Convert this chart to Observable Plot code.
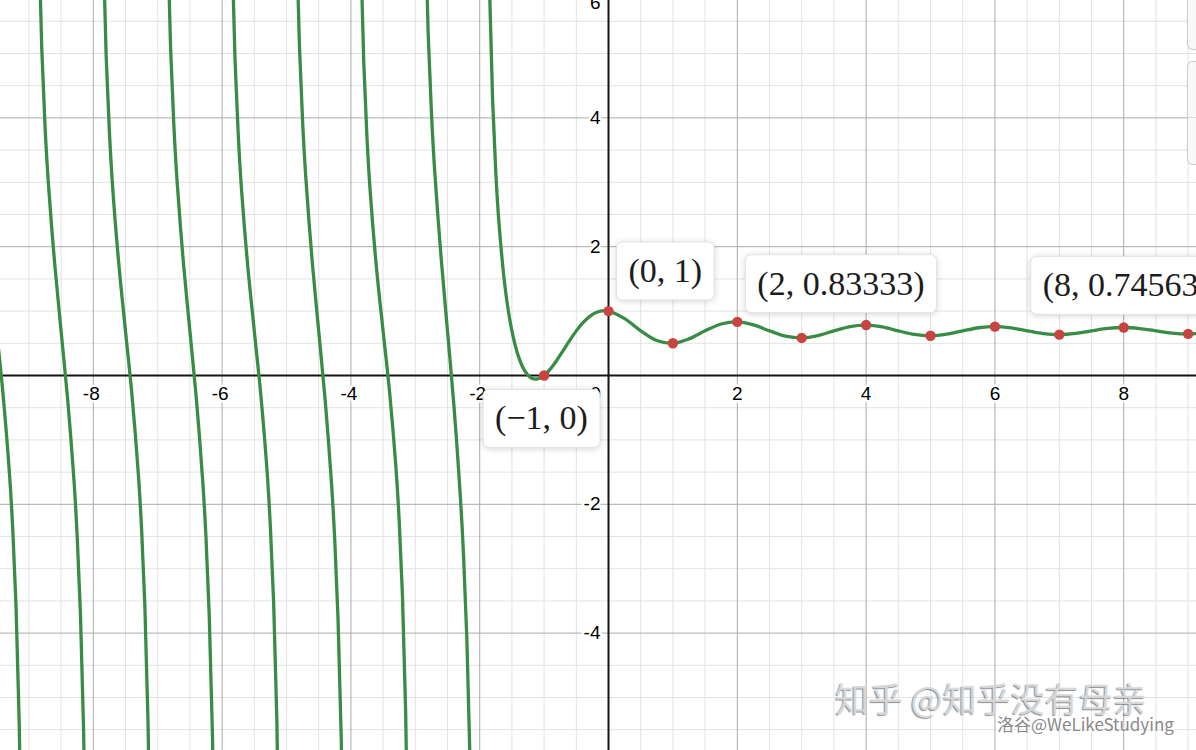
<!DOCTYPE html>
<html><head><meta charset="utf-8">
<script src="https://cdn.jsdelivr.net/npm/d3@7"></script>
<script src="https://cdn.jsdelivr.net/npm/@observablehq/plot@0.6"></script>
<style>
html,body{margin:0;padding:0;background:#fff;}
#wrap{position:relative;width:1196px;height:750px;overflow:hidden;background:#fff;}
#wrap svg{display:block;}
.zbtn{position:absolute;left:1187px;width:40px;background:#f8f8f8;border:1px solid #cdcdcd;border-radius:6px;box-sizing:border-box;box-shadow:0 0 2px rgba(0,0,0,0.08);}
.zdiv{position:absolute;left:0;right:0;border-top:1px solid #dcdcdc;}
.wm1{position:absolute;left:835px;top:681px;line-height:1;font-family:"Noto Sans CJK SC",sans-serif;font-size:34px;color:rgba(218,218,218,0.95);text-shadow:-1px 1px 1px rgba(70,70,70,0.6);white-space:nowrap;}
.wm2{position:absolute;left:997px;top:715px;line-height:1;font-family:"Noto Sans CJK SC",sans-serif;font-size:17px;color:#8a8a8a;text-shadow:0 0 2px #fff,0 0 2px #fff;white-space:nowrap;}
</style></head>
<body><div id="wrap"></div>
<script>
// main branch (x > -2)
const mainX = [-1.9,-1.85,-1.8,-1.75,-1.7,-1.6,-1.5,-1.4,-1.3,-1.2,-1.1,-1,-0.9,-0.8,-0.7,-0.6,-0.5,-0.4,-0.3,-0.2,-0.1,
  0,0.25,0.5,0.75,1,1.25,1.5,1.75,2,2.25,2.5,2.75,3,3.25,3.5,3.75,4,4.25,4.5,4.75,5,5.25,5.5,5.75,6,6.25,6.5,6.75,7,7.25,7.5,7.75,8,8.25,8.5,8.75,9,9.25];
const mainY = [9.62,6.11,4.287,3.146,2.354,1.322,0.693,0.301,0.071,-0.038,-0.054,0,0.104,0.241,0.394,0.549,0.693,0.816,0.911,0.974,1.003,
  1,0.8825,0.6931,0.5424,0.5,0.5683,0.6931,0.7996,0.8333,0.7858,0.6931,0.611,0.5833,0.6195,0.6931,0.7599,0.7833,0.7541,0.6931,0.6369,0.6167,0.641,0.6931,0.7416,0.7595,0.7385,0.6931,0.6504,0.6345,0.6528,0.6931,0.7312,0.7456,0.7293,0.6931,0.6587,0.6456,0.6603];

// branches between negative integer poles
const b2X = [-2.9,-2.85,-2.8,-2.75,-2.7,-2.6,-2.5,-2.4,-2.3,-2.25,-2.2,-2.15,-2.1];
const b2Y = [10.67,7.16,5.30,4.09,3.19,1.84,0.69,-0.47,-1.89,-2.82,-4.08,-6.00,-9.56];
const b3X = [-3.9,-3.85,-3.8,-3.75,-3.7,-3.6,-3.5,-3.4,-3.3,-3.25,-3.2,-3.15,-3.1];
const b3Y = [10.17,6.68,4.85,3.68,2.85,1.64,0.69,-0.25,-1.44,-2.26,-3.41,-5.22,-8.70];
const b4X = [-4.9,-4.85,-4.8,-4.75,-4.7,-4.6,-4.5,-4.4,-4.3,-4.25,-4.2,-4.15,-4.1];
const b4Y = [10.50,6.99,5.14,3.94,3.07,1.76,0.69,-0.38,-1.69,-2.57,-3.78,-5.64,-9.15];
const b5X = [-5.9,-5.85,-5.8,-5.75,-5.7,-5.6,-5.5,-5.4,-5.3,-5.25,-5.2,-5.15,-5.1];
const b5Y = [10.26,6.76,4.92,3.75,2.91,1.68,0.69,-0.29,-1.51,-2.36,-3.52,-5.35,-8.85];
const b6X = [-6.9,-6.85,-6.8,-6.75,-6.7,-6.6,-6.5,-6.4,-6.3,-6.25,-6.2,-6.15,-6.1];
const b6Y = [10.45,6.94,5.09,3.90,3.03,1.74,0.69,-0.36,-1.65,-2.52,-3.72,-5.57,-9.08];
const b7X = [-7.9,-7.85,-7.8,-7.75,-7.7,-7.6,-7.5,-7.4,-7.3,-7.25,-7.2,-7.15,-7.1];
const b7Y = [10.29,6.79,4.95,3.78,2.93,1.69,0.69,-0.30,-1.54,-2.39,-3.56,-5.40,-8.89];
const b8X = [-8.9,-8.85,-8.8,-8.75,-8.7,-8.6,-8.5,-8.4,-8.3,-8.25,-8.2,-8.15,-8.1];
const b8Y = [10.43,6.92,5.07,3.88,3.02,1.74,0.69,-0.35,-1.63,-2.50,-3.69,-5.54,-9.05];
const b9X = [-9.9,-9.85,-9.8,-9.75,-9.7,-9.6,-9.5,-9.4,-9.3,-9.25,-9.2,-9.15,-9.1];
const b9Y = [10.31,6.81,4.97,3.79,2.94,1.70,0.69,-0.31,-1.55,-2.40,-3.58,-5.42,-8.91];

// highlighted integer points
const dotX = [-1,0,1,2,3,4,5,6,7,8,9];
const dotY = [0,1,0.5,0.83333,0.58333,0.78333,0.61667,0.75952,0.63452,0.74563,0.64563];

// labels
const labelX = [-1,0,2,8];
const labelY = [0,1,0.83333,0.74563];
const labelText = ["(\u22121, 0)","(0, 1)","(2, 0.83333)","(8, 0.74563)"];

// grid & ticks
const minorX = [-9,-8.5,-7.5,-7,-6.5,-5.5,-5,-4.5,-3.5,-3,-2.5,-1.5,-1,-0.5,0.5,1,1.5,2.5,3,3.5,4.5,5,5.5,6.5,7,7.5,8.5,9];
const minorY = [-5.5,-5,-4.5,-3.5,-3,-2.5,-1.5,-1,-0.5,0.5,1,1.5,2.5,3,3.5,4.5,5,5.5];
const majorX = [-8,-6,-4,-2,2,4,6,8];
const majorY = [-4,-2,2,4];
const xNegTicks = [-8,-6,-4,-2];
const xPosTicks = [2,4,6,8];
const yTicks = [4,2,-2,-4];
const yTopTick = [6];

const branchXs = [b2X,b3X,b4X,b5X,b6X,b7X,b8X,b9X];
const branchYs = [b2Y,b3Y,b4Y,b5Y,b6Y,b7Y,b8Y,b9Y];
const rows = [];
mainX.forEach((x,i)=>rows.push({x, y: mainY[i], b: "main"}));
branchXs.forEach((xs,k)=>xs.forEach((x,i)=>rows.push({x, y: branchYs[k][i], b: "b"+k})));
const dots = dotX.map((x,i)=>({x, y: dotY[i]}));

const tickFont = {fontFamily:"Liberation Sans, Arial, sans-serif", fontSize:19, fill:"#000", stroke:"#fff", strokeWidth:5};
const labelFont = {fontFamily:"Liberation Serif, serif", fontSize:34, fill:"#1c1c1c", textAnchor:"start"};
const lbl = (i, dx, dy) => Plot.text([i], {x: j=>labelX[j], y: j=>labelY[j], text: j=>labelText[j], dx, dy, ...labelFont});

const chart = Plot.plot({
  width:1196, height:750, margin:0,
  style:{background:"#fff"},
  x:{domain:[-9.441, 9.130], axis:null},
  y:{domain:[-5.823, 5.823], axis:null},
  marks:[
    Plot.ruleX(minorX, {stroke:"#e3e3e3", strokeWidth:1}),
    Plot.ruleY(minorY, {stroke:"#e3e3e3", strokeWidth:1}),
    Plot.ruleX(majorX, {stroke:"#aaaaaa", strokeWidth:1}),
    Plot.ruleY(majorY, {stroke:"#aaaaaa", strokeWidth:1}),
    Plot.ruleX([0], {stroke:"#151515", strokeWidth:2}),
    Plot.ruleY([0], {stroke:"#151515", strokeWidth:2}),
    Plot.text(xNegTicks, {x:d=>d, y:0, text:d=>String(d), dy:18, dx:-2, textAnchor:"middle", ...tickFont}),
    Plot.text(xPosTicks, {x:d=>d, y:0, text:d=>String(d), dy:18, textAnchor:"middle", ...tickFont}),
    Plot.text([0], {x:d=>d, y:0, text:d=>String(d), dy:18, dx:-13, textAnchor:"middle", ...tickFont}),
    Plot.text(yTicks, {x:0, y:d=>d, text:d=>String(d), dx:-8, textAnchor:"end", ...tickFont}),
    Plot.text(yTopTick, {x:0, y:d=>d, text:d=>String(d), dx:-8, dy:14, textAnchor:"end", ...tickFont}),
    Plot.line(rows, {x:"x", y:"y", z:"b", stroke:"#388c46", strokeWidth:3.3, curve:"catmull-rom", clip:true}),
    Plot.dot(dots, {x:"x", y:"y", r:5.2, fill:"#c74440", stroke:"none"}),
    lbl(0, -49, 43),
    lbl(1, 20, -40),
    lbl(2, 20, -38),
    lbl(3, -81, -42)
  ]
});

const wrap = document.getElementById("wrap");
wrap.appendChild(chart);

// boxes behind the point labels, sized from the rendered text
const ns = "http://www.w3.org/2000/svg";
const svgRect = chart.getBoundingClientRect();
const labelTexts = Array.from(chart.querySelectorAll("text")).filter(t => labelText.includes(t.textContent));
if (labelTexts.length) {
  const boxG = document.createElementNS(ns, "g");
  labelTexts.forEach(t => {
    const r = t.getBoundingClientRect();
    const rect = document.createElementNS(ns, "rect");
    const padX = 12, padY = 10;
    rect.setAttribute("x", r.left - svgRect.left - padX);
    rect.setAttribute("y", r.top - svgRect.top - padY);
    rect.setAttribute("width", r.width + 2*padX);
    rect.setAttribute("height", r.height + 2*padY);
    rect.setAttribute("rx", 6);
    rect.setAttribute("fill", "#fff");
    rect.setAttribute("stroke", "#e2e2e2");
    rect.setAttribute("stroke-width", 1);
    rect.style.filter = "drop-shadow(0px 1px 3px rgba(0,0,0,0.16))";
    boxG.appendChild(rect);
  });
  let anchor = labelTexts[0];
  while (anchor.parentNode && anchor.parentNode !== chart) anchor = anchor.parentNode;
  chart.insertBefore(boxG, anchor);
}

// decorations: zoom buttons and watermark
const b1 = document.createElement("div"); b1.className="zbtn"; b1.style.top="-8px"; b1.style.height="58px"; wrap.appendChild(b1);
const b2 = document.createElement("div"); b2.className="zbtn"; b2.style.top="61px"; b2.style.height="104px";
const dv = document.createElement("div"); dv.className="zdiv"; dv.style.top="55px"; b2.appendChild(dv); wrap.appendChild(b2);
const w1 = document.createElement("div"); w1.className="wm1"; w1.textContent="知乎 @知乎没有母亲"; wrap.appendChild(w1);
const w2 = document.createElement("div"); w2.className="wm2"; w2.textContent="洛谷@WeLikeStudying"; wrap.appendChild(w2);
</script></body></html>
